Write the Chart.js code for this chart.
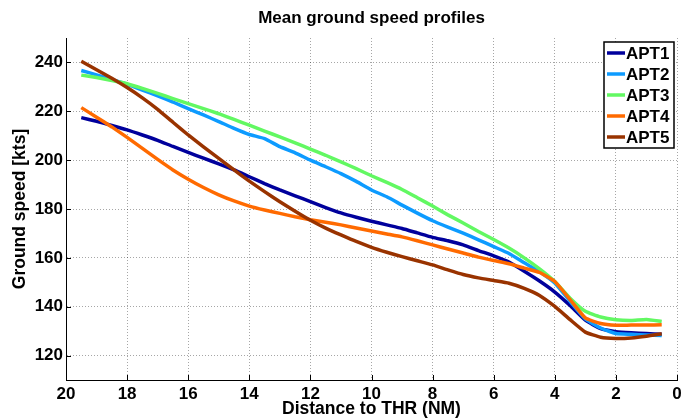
<!DOCTYPE html>
<html>
<head>
<meta charset="utf-8">
<script src="https://cdn.jsdelivr.net/npm/chart.js@4"></script>
<style>
  html, body { margin: 0; padding: 0; background: #fff; }
  #wrap { width: 692px; height: 419px; }
</style>
</head>
<body>
<div id="wrap"><canvas id="speedChart" width="692" height="419"></canvas></div>
<script>
/* Mean ground speed profiles */

const chartTitle = 'Mean ground speed profiles';
const xTitle = 'Distance to THR (NM)';
const yTitle = 'Ground speed [kts]';

const distances = [19.5, 19, 18.5, 18, 17.5, 17, 16.5, 16, 15.5, 15, 14.5, 14, 13.5, 13, 12.5, 12, 11.5, 11, 10.5, 10,
    9.5, 9, 8.5, 8, 7.5, 7, 6.5, 6, 5.5, 5, 4.5, 4, 3.5, 3, 2.5, 2, 1.5, 1, 0.5];

const apt1 = [217.4, 215.9, 214.2, 212.4, 210.3, 208.1, 205.6, 203.2, 200.8, 198.5, 196, 193.2, 190.4, 187.8, 185.4, 183,
    180.6, 178.4, 176.6, 175, 173.5, 172, 170.2, 168.4, 167, 165.3, 163, 160.8, 158.3, 154.5, 150.5, 146, 140.5, 134.5,
    131, 129.8, 129.3, 129, 128.7];
const apt2 = [236.7, 234.9, 233, 231, 228.7, 226.3, 223.8, 221.1, 218.5, 215.8, 213, 210.5, 208.8, 205.5, 203, 200,
    197.3, 194.5, 191.3, 187.8, 185, 181.6, 178.3, 175.2, 172.6, 170.1, 167.4, 164.6, 161.8, 158, 154.3, 149.7, 142.2, 135,
    131.3, 129, 128.7, 128.4, 128.2];
const apt3 = [234.8, 233.8, 232.6, 231.3, 229.4, 227.3, 225.2, 223.1, 221.1, 219, 216.7, 214.3, 211.9, 209.5, 207.1, 204.5,
    202, 199.3, 196.5, 193.6, 190.9, 188, 184.6, 181.2, 177.6, 174.3, 170.8, 167.5, 164, 160, 155.5, 150.3, 143.5, 138.1,
    135.8, 134.7, 134.4, 134.8, 134];
const apt4 = [221.5, 217.6, 213.6, 209.3, 204.8, 200.3, 196, 192.2, 188.8, 185.8, 183.3, 181.2, 179.6, 178.2, 176.8, 175.6,
    174.6, 173.5, 172.2, 171, 169.8, 168.6, 167, 165.3, 163.6, 162, 160.3, 158.9, 157.6, 155.8, 154, 150.3, 142.9, 135.4,
    133.1, 132.4, 132.5, 132.5, 132.6];
const apt5 = [240.5, 237, 233.5, 229.7, 225.5, 220.8, 215.5, 210.3, 205.4, 200.7, 196, 191.4, 187.1, 183, 179.1, 175.4,
    172.2, 169.4, 166.7, 164.3, 162.3, 160.5, 158.8, 157.1, 155.1, 153.2, 151.8, 150.7, 149.6, 147.5, 144.6, 140.1, 134.7,
    129.6, 127.5, 127, 127.2, 127.9, 128.9];

const seriesNames = ['APT1', 'APT2', 'APT3', 'APT4', 'APT5'];
const seriesValues = [apt1, apt2, apt3, apt4, apt5];
const seriesColors = ['#00009c', '#0d9bff', '#62f862', '#ff6a00', '#993300'];

const xTicks = [0, 2, 4, 6, 8, 10, 12, 14, 16, 18, 20];
const yTicks = [120, 140, 160, 180, 200, 220, 240];

const FONT = 'Liberation Sans, Arial, Helvetica, sans-serif';

/* title centred over the plot area */
const titlePlugin = {
    id: 'plotTitle',
    afterDraw(chart) {
        const { ctx, chartArea } = chart;
        ctx.save();
        ctx.font = 'bold 17px ' + FONT;
        ctx.fillStyle = '#000';
        ctx.textAlign = 'center';
        ctx.textBaseline = 'middle';
        ctx.fillText(chartTitle, (chartArea.left + chartArea.right) / 2, 18);
        ctx.restore();
    }
};

/* MATLAB-style inward tick marks */
const inwardTicks = {
    id: 'inwardTicks',
    afterDraw(chart) {
        const { ctx, chartArea: a, scales: { x, y } } = chart;
        ctx.save();
        ctx.strokeStyle = '#000';
        ctx.lineWidth = 1;
        ctx.beginPath();
        x.ticks.forEach(t => {
            const px = Math.round(x.getPixelForValue(t.value)) + 0.5;
            ctx.moveTo(px, a.bottom);
            ctx.lineTo(px, a.bottom - 5);
        });
        y.ticks.forEach(t => {
            const py = Math.round(y.getPixelForValue(t.value)) + 0.5;
            ctx.moveTo(a.left, py);
            ctx.lineTo(a.left + 5, py);
        });
        ctx.stroke();
        ctx.restore();
    }
};

/* boxed legend in the top-right corner */
const boxLegend = {
    id: 'boxLegend',
    afterDraw(chart) {
        const { ctx, chartArea: a } = chart;
        const left = a.right - 73, top = a.top + 4, w = 70, h = 106;
        ctx.save();
        ctx.fillStyle = '#fff';
        ctx.fillRect(left, top, w, h);
        ctx.strokeStyle = '#000';
        ctx.lineWidth = 1.5;
        ctx.strokeRect(left, top, w, h);
        ctx.font = 'bold 17px ' + FONT;
        ctx.textBaseline = 'middle';
        ctx.textAlign = 'left';
        chart.data.datasets.forEach((ds, i) => {
            const cy = top + 11 + i * 21;
            ctx.strokeStyle = ds.borderColor;
            ctx.lineWidth = 3.5;
            ctx.beginPath();
            ctx.moveTo(left + 3, cy);
            ctx.lineTo(left + 21, cy);
            ctx.stroke();
            ctx.fillStyle = '#000';
            ctx.fillText(ds.label, left + 22, cy + 1);
        });
        ctx.restore();
    }
};

const datasets = seriesNames.map((name, i) => ({
    label: name,
    data: distances.map((d, j) => ({ x: d, y: seriesValues[i][j] })),
    borderColor: seriesColors[i],
    backgroundColor: seriesColors[i],
    borderWidth: 3.5,
    pointRadius: 0,
    tension: 0.15,
    fill: false,
    order: seriesNames.length - i
}));

new Chart(document.getElementById('speedChart'), {
    type: 'line',
    data: { datasets: datasets },
    options: {
        responsive: false,
        animation: false,
        layout: { padding: { top: 38, right: 15, left: 0, bottom: 0 } },
        plugins: {
            legend: { display: false },
            title: { display: false },
            tooltip: { enabled: false }
        },
        scales: {
            x: {
                type: 'linear',
                reverse: true,
                min: 0,
                max: 20,
                afterFit: (scale) => { scale.height = 39; },
                afterBuildTicks: (scale) => { scale.ticks = xTicks.map(v => ({ value: v })); },
                ticks: {
                    padding: 4,
                    color: '#000',
                    maxRotation: 0,
                    font: { family: FONT, size: 17, weight: 'bold' }
                },
                grid: { color: 'rgba(0,0,0,0.35)', drawTicks: false },
                border: { display: true, color: '#000', width: 1, dash: [1, 2] },
                title: {
                    display: true,
                    text: xTitle,
                    color: '#000',
                    padding: { top: 0, bottom: 0 },
                    font: { family: FONT, size: 17.5, weight: 'bold', lineHeight: 1.1 }
                }
            },
            y: {
                type: 'linear',
                min: 110,
                max: 250,
                afterFit: (scale) => { scale.width = 66; },
                afterBuildTicks: (scale) => { scale.ticks = yTicks.map(v => ({ value: v })); },
                ticks: {
                    padding: 3,
                    color: '#000',
                    font: { family: FONT, size: 17, weight: 'bold' }
                },
                grid: { color: 'rgba(0,0,0,0.35)', drawTicks: false },
                border: { display: true, color: '#000', width: 1, dash: [1, 2] },
                title: {
                    display: true,
                    text: yTitle,
                    color: '#000',
                    padding: { top: 11, bottom: 0 },
                    font: { family: FONT, size: 17.5, weight: 'bold', lineHeight: 1.1 }
                }
            }
        }
    },
    plugins: [titlePlugin, inwardTicks, boxLegend]
});
</script>
</body>
</html>
